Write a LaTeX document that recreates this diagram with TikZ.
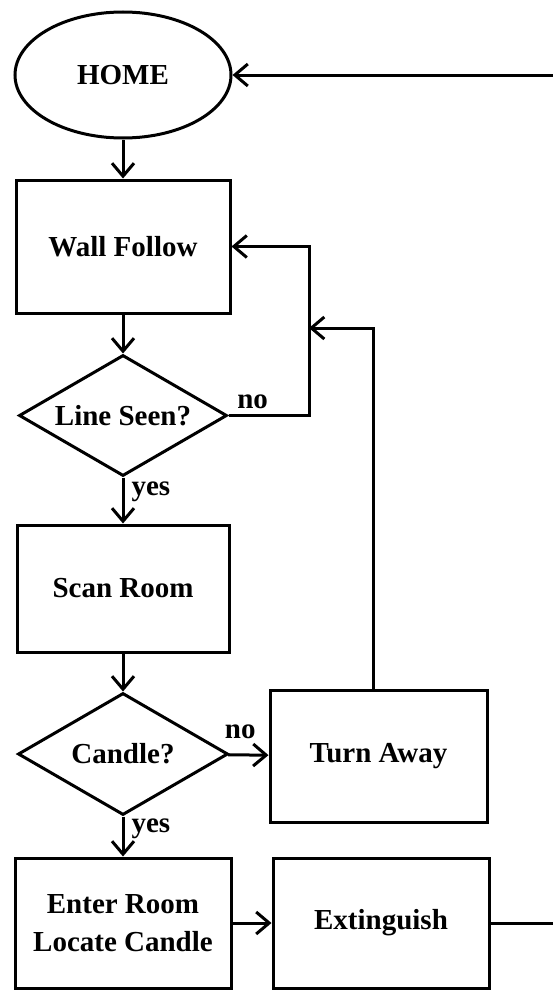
\documentclass[tikz,border=0pt]{standalone}
\usepackage{fontspec}
\setmainfont{Liberation Serif}
\usetikzlibrary{shapes.geometric, arrows.meta}

\begin{document}
\begin{tikzpicture}[x=10pt, y=10pt,
    every node/.style={font=\bfseries\fontsize{29}{38}\selectfont, inner sep=0pt},
    box/.style={draw=black, line width=3pt, rectangle, align=center},
    decide/.style={draw=black, line width=3pt, diamond, aspect=1.7},
    lbl/.style={inner sep=5pt},
    arr/.style={black, line width=3pt, -{Straight Barb[length=13pt,width=22pt]}}]
    \useasboundingbox (0,0) rectangle (55.2,-99);
    % left column
    \node [draw=black, line width=3pt, ellipse, minimum width=216pt, minimum height=126pt] (home) at (12.3,-7.5) {HOME};
    \node [box, minimum width=214pt, minimum height=133pt] (wall) at (12.3,-24.65) {Wall Follow};
    \node [decide, minimum width=208pt, minimum height=121pt] (line) at (12.3,-41.55) {Line Seen?};
    \node [box, minimum width=212pt, minimum height=127pt] (scan) at (12.3,-58.85) {Scan Room};
    \node [decide, minimum width=210pt, minimum height=122pt] (candle) at (12.3,-75.4) {Candle?};
    \node [box, minimum width=216pt, minimum height=130pt] (enter) at (12.3,-92.3) {Enter Room\\Locate Candle};
    % right column
    \node [box, minimum width=217pt, minimum height=132pt] (turn) at (37.85,-75.6) {Turn Away};
    \node [box, minimum width=216pt, minimum height=130pt] (ext) at (38.1,-92.3) {Extinguish};
    % corners of the return lines
    \coordinate (j1) at (30.9,-24.65);
    \coordinate (j2) at (37.3,-32.8);
    \coordinate (j3) at (56,-92.3);
    % connectors
    \draw [arr] (home) -- (wall);
    \draw [arr] (wall) -- (line);
    \draw [arr] (line) -- node [lbl, right, pos=0.3, xshift=2pt] (yes1) {yes} (scan);
    \draw [arr] (scan) -- (candle);
    \draw [arr] (candle) -- node [lbl, right, pos=0.3, xshift=2pt] (yes2) {yes} (enter);
    \draw [arr] (candle) -- node [lbl, above, pos=0.3, yshift=10pt] (no2) {no} (turn);
    \draw [arr] (line.east) -| node [lbl, above, pos=0.15] (no1) {no} (j1) -- (wall.east);
    \draw [arr] (turn.north -| j2) -- (j2) -- (j2 -| j1);
    \draw [arr] (enter) -- (ext);
    \draw [arr] (ext) -- (j3) |- (home.east);
\end{tikzpicture}
\end{document}
